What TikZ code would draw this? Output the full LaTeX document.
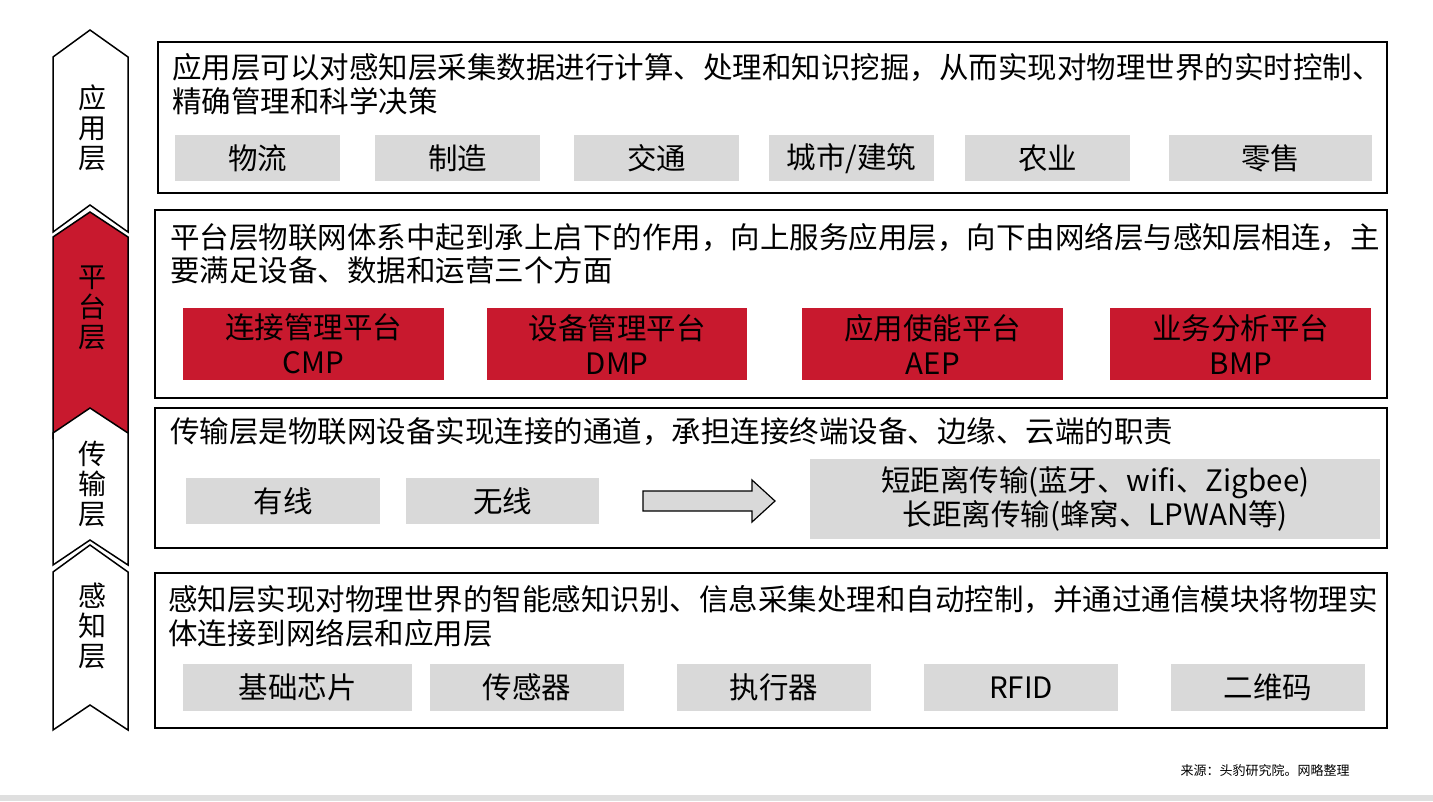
\documentclass[tikz,border=0pt]{standalone}
\usepackage{fontspec}
\setmainfont{Noto Sans CJK SC}
\begin{document}
\begin{tikzpicture}[x=1pt,y=-1pt,
  frame/.style={draw=black,line width=1.5pt,fill=white},
  gbox/.style={fill=graybox,anchor=north west,inner sep=0pt,font=\fontsize{29.5}{36}\selectfont},
  rbox/.style={fill=redc,anchor=north west,inner sep=0pt,font=\fontsize{29.5}{35}\selectfont,align=center},
  desc/.style={anchor=west,inner sep=0pt,font=\fontsize{29.5}{32}\selectfont},
  chev/.style={draw=black,line width=1.5pt},
  side/.style={font=\fontsize{28}{30}\selectfont,align=center}]
\definecolor{graybox}{HTML}{D9D9D9}
\definecolor{redc}{HTML}{C8192E}
\useasboundingbox (0,0) rectangle (1433,801);
\fill[white] (0,0) rectangle (1433,801);
\fill[gray!25] (0,795) rectangle (1433,801);
% chevrons
\draw[chev,fill=white] (53,57)--(90,30)--(128,57)--(128,232)--(90,205)--(53,232)--cycle;
\draw[chev,fill=redc] (53,237)--(90,212)--(128,237)--(128,438)--(90,410)--(53,438)--cycle;
\draw[chev,fill=white] (53,433)--(90,408)--(128,433)--(128,565)--(90,540)--(53,565)--cycle;
\draw[chev,fill=white] (53,572)--(90,545)--(128,572)--(128,730)--(90,705)--(53,730)--cycle;
\node[side] (c1) at (92,128) {应\\用\\层};
\node[side] (c2) at (92,308) {平\\台\\层};
\node[side] (c3) at (92,484) {传\\输\\层};
\node[side] (c4) at (92,626) {感\\知\\层};
% frames
\draw[frame] (158,42) rectangle (1387,193);
\draw[frame] (155,210) rectangle (1387,398);
\draw[frame] (155,408) rectangle (1387,548);
\draw[frame] (155,573) rectangle (1387,728);
% row1
\node[desc] (t1a) at (172,68) {应用层可以对感知层采集数据进行计算、处理和知识挖掘，从而实现对物理世界的实时控制、};
\node[desc] (t1b) at (172,101) {精确管理和科学决策};
\foreach \a/\b/\t [count=\i] in {175/340/物流,375/540/制造,574/739/交通,769/934/{城市/建筑},965/1130/农业,1169/1372/零售}{
  \node[gbox,minimum width=\b-\a,minimum height=46] (g1\i) at (\a,135) {\t};}
% row2
\node[desc] (t2a) at (170,237) {平台层物联网体系中起到承上启下的作用，向上服务应用层，向下由网络层与感知层相连，主};
\node[desc] (t2b) at (170,270) {要满足设备、数据和运营三个方面};
\foreach \a/\b/\t/\s [count=\i] in {183/444/连接管理平台/CMP,487/747/设备管理平台/DMP,802/1063/应用使能平台/AEP,1110/1371/业务分析平台/BMP}{
  \node[rbox,minimum width=\b-\a,minimum height=72] (r\i) at (\a,308) {\t\\\s};}
% row3
\node[desc] (t3a) at (170,432) {传输层是物联网设备实现连接的通道，承担连接终端设备、边缘、云端的职责};
\node[gbox,minimum width=194,minimum height=46] (w1) at (186,478) {有线};
\node[gbox,minimum width=193,minimum height=46] (w2) at (406,478) {无线};
\node[gbox,minimum width=570,minimum height=80,align=center,font=\fontsize{29.5}{34}\selectfont] (w3) at (810,459) {短距离传输(蓝牙、wifi、Zigbee)\\长距离传输(蜂窝、LPWAN等)};
\draw[line width=1.2pt,fill=graybox] (643,491)--(752,491)--(752,480)--(775,501)--(752,522)--(752,511)--(643,511)--cycle;
% row4
\node[desc] (t4a) at (168,600) {感知层实现对物理世界的智能感知识别、信息采集处理和自动控制，并通过通信模块将物理实};
\node[desc] (t4b) at (168,633) {体连接到网络层和应用层};
\foreach \a/\b/\t [count=\i] in {183/412/基础芯片,430/624/传感器,677/871/执行器,924/1118/RFID,1171/1365/二维码}{
  \node[gbox,minimum width=\b-\a,minimum height=47] (g4\i) at (\a,664) {\t};}
\node[font=\fontsize{13}{15}\selectfont] (src) at (1265,771) {来源：头豹研究院。网略整理};
\end{tikzpicture}
\end{document}
